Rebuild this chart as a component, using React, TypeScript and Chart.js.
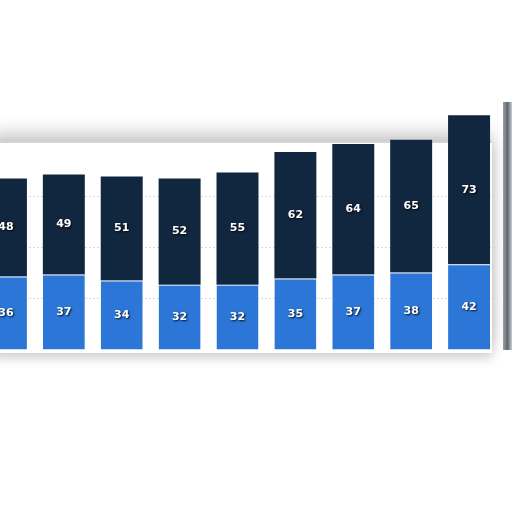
import { useEffect, useRef } from 'react';
import { Chart, registerables } from 'chart.js';

Chart.register(...registerables);

const categories = ['2011', '2012', '2013', '2014', '2015', '2016', '2017', '2018', '2019'];
const lowerValues = [36, 37, 34, 32, 32, 35, 37, 38, 42];
const upperValues = [48, 49, 51, 52, 55, 62, 64, 65, 73];

const segmentLabels = {
  id: 'segmentLabels',
  afterDatasetsDraw(chart: Chart) {
    const ctx = chart.ctx;
    ctx.save();
    ctx.font = 'bold 11px "DejaVu Sans", sans-serif';
    ctx.textAlign = 'center';
    ctx.textBaseline = 'middle';
    ctx.fillStyle = '#ffffff';
    ctx.shadowColor = 'rgba(0,0,0,0.85)';
    ctx.shadowBlur = 2;
    ctx.shadowOffsetX = 1;
    ctx.shadowOffsetY = 1;
    chart.data.datasets.forEach((ds, i) => {
      const meta = chart.getDatasetMeta(i);
      meta.data.forEach((bar, j) => {
        const p = bar.getCenterPoint();
        ctx.fillText(String(ds.data[j]), p.x, p.y);
      });
    });
    ctx.restore();
  },
};

export default function App() {
  const chartRef = useRef<HTMLCanvasElement>(null);
  const chartInstanceRef = useRef<Chart | null>(null);

  useEffect(() => {
    if (!chartRef.current) return;
    const ctx = chartRef.current.getContext('2d');
    if (!ctx) return;
    if (chartInstanceRef.current) chartInstanceRef.current.destroy();

    chartInstanceRef.current = new Chart(ctx, {
      type: 'bar',
      data: {
        labels: categories,
        datasets: [
          {
            data: lowerValues,
            backgroundColor: '#2b76d7',
            borderColor: '#d6e6f8',
            borderWidth: { top: 1, left: 0, right: 0, bottom: 0 },
            borderSkipped: false,
            barPercentage: 0.725,
            categoryPercentage: 1,
          },
          {
            data: upperValues,
            backgroundColor: '#11263f',
            barPercentage: 0.725,
            categoryPercentage: 1,
          },
        ],
      },
      options: {
        responsive: false,
        maintainAspectRatio: false,
        animation: false,
        layout: { padding: 0 },
        plugins: {
          legend: { display: false },
          tooltip: { enabled: false },
          title: { display: false },
        },
        scales: {
          x: {
            stacked: true,
            ticks: { display: false },
            grid: { display: false, drawTicks: false },
            border: { display: true, color: '#3a3f47', width: 1 },
          },
          y: {
            stacked: true,
            min: 0,
            max: 122.5,
            ticks: { display: false, stepSize: 25 },
            grid: {
              color: (c: any) => (c.tick && c.tick.value > 0 && c.tick.value < 100 ? '#d8d8d8' : 'transparent'),
              drawTicks: false,
              tickLength: 0,
            },
            border: { display: false, dash: [2, 2] },
          },
        },
      },
      plugins: [segmentLabels],
    });

    return () => {
      if (chartInstanceRef.current) {
        chartInstanceRef.current.destroy();
        chartInstanceRef.current = null;
      }
    };
  }, []);

  return (
    <div
      style={{
        position: 'fixed',
        left: 0,
        top: 0,
        width: 512,
        height: 512,
        overflow: 'hidden',
        background: '#ffffff',
      }}
    >
      <div
        style={{
          position: 'absolute',
          left: -10,
          top: 141,
          width: 502,
          height: 210,
          background: '#ffffff',
          boxShadow: '0 -8px 16px rgba(0,0,0,0.22), 0 6px 10px rgba(0,0,0,0.15)',
          borderTop: '2px solid #d4d4d4',
        }}
      />
      <div
        style={{
          position: 'absolute',
          left: 503,
          top: 102,
          width: 9,
          height: 248,
          background: 'linear-gradient(90deg, #9aa0a6, #5f6670 50%, #c9cdd1)',
        }}
      />
      <canvas
        ref={chartRef}
        width={521}
        height={250}
        style={{ position: 'absolute', left: -23, top: 100, width: 521, height: 250 }}
      />
    </div>
  );
}
